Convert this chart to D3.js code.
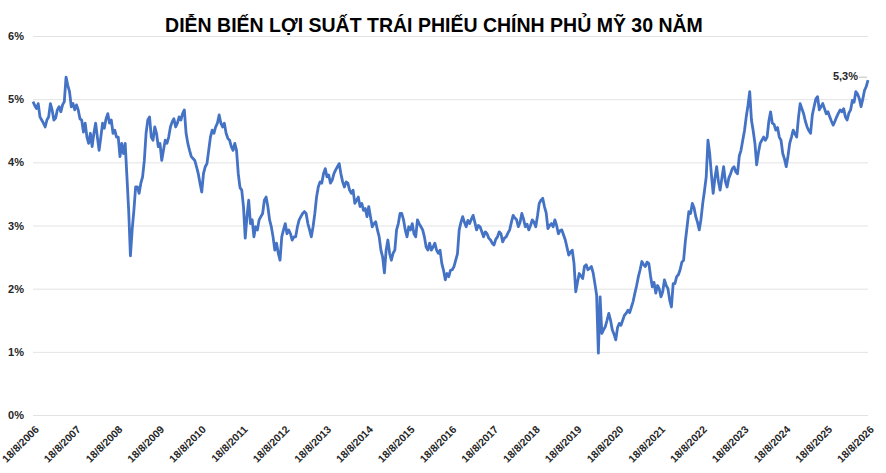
<!DOCTYPE html>
<html>
<head>
<meta charset="utf-8">
<script src="https://cdn.jsdelivr.net/npm/d3@7"></script>
<style>
  body { margin: 0; background: #fff; }
  svg { display: block; font-family: "Liberation Sans", Arial, sans-serif; }
</style>
</head>
<body>
<svg id="chart" width="886" height="473"></svg>
<script>
const title = 'DIỄN BIẾN LỢI SUẤT TRÁI PHIẾU CHÍNH PHỦ MỸ 30 NĂM';
const startDate = '2006-08-18';
const endDate = '2026-08-18';
const lastLabel = '5,3%';

// tick labels on the x axis (one per year)
const tickDates = ['2006-08-18','2007-08-18','2008-08-18','2009-08-18','2010-08-18',
  '2011-08-18','2012-08-18','2013-08-18','2014-08-18','2015-08-18','2016-08-18',
  '2017-08-18','2018-08-18','2019-08-18','2020-08-18','2021-08-18','2022-08-18',
  '2023-08-18','2024-08-18','2025-08-18','2026-08-18'];
const yTicks = [0, 1, 2, 3, 4, 5, 6];

// yield (%) every half month from 18/8/2006 to 18/8/2026
const yields = [
  // 2006 - 2016
  4.96, 4.90, 4.85, 4.93, 4.72, 4.67, 4.62, 4.56, 4.67, 4.72,
  4.93, 4.83, 4.67, 4.70, 4.83, 4.88, 4.80, 4.91, 4.96, 5.35,
  5.22, 5.12, 4.88, 4.93, 4.83, 4.91, 4.83, 4.69, 4.67, 4.48,
  4.62, 4.40, 4.30, 4.46, 4.25, 4.46, 4.62, 4.40, 4.19, 4.40,
  4.62, 4.54, 4.69, 4.77, 4.62, 4.67, 4.46, 4.51, 4.40, 4.40,
  4.09, 4.30, 4.14, 4.30, 3.77, 3.24, 2.52, 2.93, 3.24, 3.61,
  3.61, 3.51, 3.67, 3.77, 4.03, 4.46, 4.67, 4.72, 4.40, 4.35,
  4.56, 4.46, 4.25, 4.30, 4.03, 4.19, 4.35, 4.30, 4.40, 4.56,
  4.64, 4.69, 4.56, 4.62, 4.72, 4.67, 4.77, 4.83, 4.46, 4.30,
  4.19, 4.09, 4.06, 4.03, 3.93, 3.82, 3.67, 3.53, 3.82, 3.93,
  3.98, 4.19, 4.40, 4.51, 4.46, 4.56, 4.62, 4.75, 4.62, 4.56,
  4.62, 4.46, 4.38, 4.35, 4.25, 4.19, 4.30, 4.19, 3.82, 3.60,
  3.56, 3.30, 2.80, 3.14, 3.40, 3.03, 3.09, 2.82, 2.98, 2.93,
  3.09, 3.14, 3.19, 3.40, 3.45, 3.30, 3.09, 2.98, 2.82, 2.61,
  2.72, 2.56, 2.45, 2.82, 2.93, 3.03, 2.87, 2.93, 2.87, 2.77,
  2.82, 2.82, 2.98, 3.09, 3.14, 3.19, 3.22, 3.19, 3.03, 2.93,
  2.82, 2.98, 3.19, 3.45, 3.61, 3.69, 3.67, 3.82, 3.90, 3.77,
  3.80, 3.67, 3.72, 3.82, 3.88, 3.93, 3.98, 3.82, 3.69, 3.61,
  3.69, 3.67, 3.56, 3.51, 3.56, 3.35, 3.40, 3.45, 3.30, 3.35,
  3.24, 3.27, 3.14, 3.30, 3.14, 2.98, 3.03, 3.06, 2.93, 2.82,
  2.61, 2.50, 2.25, 2.61, 2.77, 2.56, 2.45, 2.56, 2.61, 2.93,
  3.03, 3.19, 3.19, 3.09, 2.93, 2.82, 2.98, 2.93, 3.03, 2.87,
  2.82, 3.09, 3.03, 2.98, 2.93, 2.82, 2.66, 2.61, 2.72, 2.61,
  2.66, 2.72, 2.61, 2.56, 2.61, 2.40, 2.29, 2.14, 2.24, 2.19,
  2.29,
  // 2016 - 2026
        2.30, 2.35, 2.45, 2.55, 2.93, 3.05, 3.14, 3.05, 2.98,
  3.08, 3.03, 3.10, 3.16, 3.05, 2.93, 3.00, 2.98, 2.90, 2.82,
  2.90, 2.87, 2.80, 2.77, 2.72, 2.69, 2.78, 2.82, 2.90, 2.87,
  2.74, 2.80, 2.82, 2.88, 2.93, 3.05, 3.16, 3.12, 3.09, 2.98,
  3.05, 3.19, 3.10, 2.98, 3.02, 2.93, 3.00, 3.09, 3.05, 2.98,
  3.15, 3.35, 3.40, 3.43, 3.30, 3.20, 2.95, 3.00, 3.03, 2.98,
  3.09, 3.00, 2.87, 2.92, 2.93, 2.85, 2.77, 2.65, 2.53, 2.58,
  2.61, 2.40, 1.95, 2.10, 2.24, 2.20, 2.16, 2.35, 2.38, 2.30,
  2.32, 2.35, 2.25, 2.08, 1.90, 0.98, 1.87, 1.29, 1.35, 1.40,
  1.50, 1.61, 1.50, 1.35, 1.28, 1.19, 1.38, 1.45, 1.42, 1.50,
  1.58, 1.61, 1.66, 1.62, 1.71, 1.80, 1.93, 2.05, 2.19, 2.30,
  2.43, 2.38, 2.35, 2.42, 2.40, 2.20, 2.03, 2.10, 1.93, 2.05,
  2.00, 1.87, 1.95, 2.14, 2.05, 2.00, 1.82, 1.71, 2.08, 2.08,
  2.19, 2.22, 2.30, 2.42, 2.45, 2.75, 2.98, 3.22, 3.19, 3.35,
  3.28, 3.14, 3.05, 2.93, 3.10, 3.35, 3.55, 3.77, 4.35, 4.14,
  3.80, 3.51, 3.75, 3.93, 3.70, 3.56, 3.75, 3.93, 3.70, 3.61,
  3.75, 3.82, 3.90, 3.93, 3.85, 3.82, 4.10, 4.19, 4.35, 4.50,
  4.72, 4.90, 5.12, 4.67, 4.50, 4.30, 3.96, 4.15, 4.30, 4.35,
  4.40, 4.35, 4.40, 4.65, 4.80, 4.62, 4.60, 4.51, 4.55, 4.40,
  4.35, 4.14, 4.05, 3.93, 4.10, 4.30, 4.40, 4.51, 4.45, 4.40,
  4.70, 4.93, 4.85, 4.77, 4.65, 4.56, 4.50, 4.46, 4.75, 4.88,
  5.00, 5.04, 4.83, 4.88, 4.93, 4.85, 4.77, 4.80, 4.72, 4.65,
  4.59, 4.65, 4.72, 4.78, 4.83, 4.80, 4.85, 4.72, 4.67, 4.78,
  4.83, 4.98, 4.95, 5.12, 5.08, 5.01, 4.88, 5.00, 5.14, 5.20,
  5.30
];

const width = 886, height = 473;
const margin = { top: 36, right: 18, bottom: 58, left: 33 };

const svg = d3.select('#chart');
const parse = d3.timeParse('%Y-%m-%d');
const start = parse(startDate), end = parse(endDate);
const step = (end - start) / (yields.length - 1);
const data = yields.map((v, i) => ({ date: new Date(+start + i * step), value: v }));
const ticks = tickDates.map(parse);

const x = d3.scaleTime()
    .domain([start, end])
    .range([margin.left, width - margin.right]);

const y = d3.scaleLinear()
    .domain([0, 6])
    .range([height - margin.bottom, margin.top]);

// gridlines + y labels
const yAxis = d3.axisLeft(y)
    .tickValues(yTicks)
    .tickFormat(d => d + '%')
    .tickSize(-(width - margin.left - margin.right))
    .tickPadding(9);

const gy = svg.append('g')
    .attr('transform', `translate(${margin.left},0)`)
    .call(yAxis);
gy.select('.domain').remove();
gy.selectAll('line').attr('stroke', '#e3e3e3').attr('stroke-width', 1);
gy.selectAll('text')
    .attr('fill', '#262626')
    .style('font-size', '11px')
    .style('font-weight', 'bold');

// x labels, rotated
const xAxis = d3.axisBottom(x)
    .tickValues(ticks)
    .tickFormat(d3.timeFormat('%-d/%-m/%Y'))
    .tickSize(0);

const gx = svg.append('g')
    .attr('transform', `translate(0,${height - margin.bottom})`)
    .call(xAxis);
gx.select('.domain').remove();
gx.selectAll('text')
    .attr('fill', '#262626')
    .style('font-size', '10.5px')
    .style('font-weight', 'bold')
    .style('text-anchor', 'end')
    .attr('dx', 0)
    .attr('dy', 0)
    .attr('transform', 'translate(4,13) rotate(-45)');

// the series
const line = d3.line()
    .x(d => x(d.date))
    .y(d => y(d.value));

svg.append('path')
    .datum(data)
    .attr('fill', 'none')
    .attr('stroke', '#4472C4')
    .attr('stroke-width', 2.8)
    .attr('stroke-linejoin', 'round')
    .attr('d', line);

// label on the last point
const last = data[data.length - 1];
svg.append('line')
    .attr('x1', x(last.date) - 9).attr('y1', y(last.value) - 3)
    .attr('x2', x(last.date) - 1).attr('y2', y(last.value) - 3)
    .attr('stroke', '#bfbfbf');
svg.append('text')
    .attr('x', x(last.date) - 10)
    .attr('y', y(last.value))
    .attr('text-anchor', 'end')
    .attr('fill', '#262626')
    .style('font-size', '11px')
    .style('font-weight', 'bold')
    .text(lastLabel);

// title
svg.append('text')
    .attr('x', 434)
    .attr('y', 32)
    .attr('text-anchor', 'middle')
    .attr('fill', '#000')
    .style('font-size', '19.5px')
    .style('font-weight', 'bold')
    .text(title);
</script>
</body>
</html>
